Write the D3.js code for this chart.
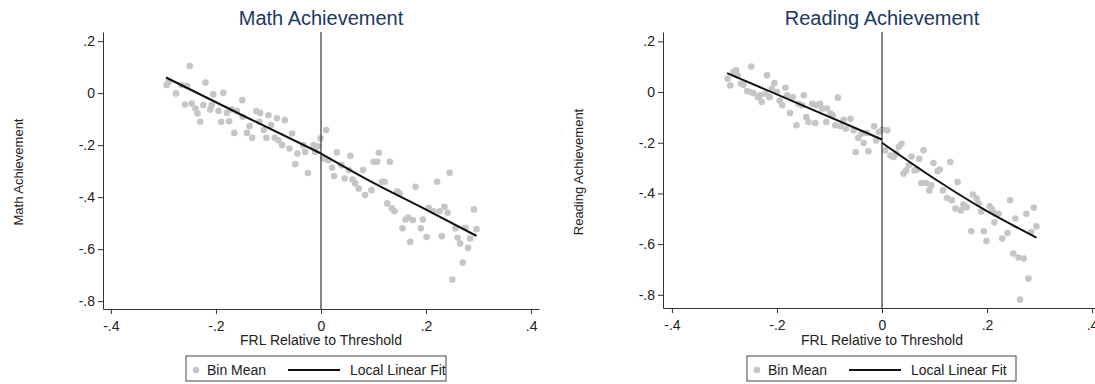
<!DOCTYPE html>
<html>
<head>
<meta charset="utf-8">
<script src="https://cdn.jsdelivr.net/npm/d3@7"></script>
<style>
  html, body { margin: 0; padding: 0; background: #fff; }
  svg { display: block; font-family: "Liberation Sans", Arial, sans-serif; }
</style>
</head>
<body>
<svg id="chart" width="1095" height="384"></svg>
<script>
// Data
const xTicks = [-0.4, -0.2, 0, 0.2, 0.4];
const yTicks = [0.2, 0, -0.2, -0.4, -0.6, -0.8];
const legendLabels = ['Bin Mean', 'Local Linear Fit'];
const xTitle = 'FRL Relative to Threshold';

const mathBins = [
  [-0.294, 0.031], [-0.290, 0.043], [-0.276, -0.001], [-0.250, 0.104], [-0.259, -0.044],
  [-0.265, 0.031], [-0.255, 0.027], [-0.246, -0.040], [-0.239, -0.059], [-0.235, -0.078],
  [-0.230, -0.110], [-0.220, 0.041], [-0.224, -0.046], [-0.211, -0.063], [-0.205, -0.005],
  [-0.208, -0.046], [-0.195, -0.069], [-0.190, -0.110], [-0.186, 0.001], [-0.179, -0.076],
  [-0.175, -0.108], [-0.170, -0.063], [-0.160, -0.069], [-0.165, -0.153], [-0.150, -0.027],
  [-0.149, -0.091], [-0.141, -0.153], [-0.136, -0.127], [-0.131, -0.172], [-0.123, -0.069],
  [-0.116, -0.076], [-0.117, -0.110], [-0.109, -0.142], [-0.104, -0.172], [-0.100, -0.085],
  [-0.095, -0.123], [-0.084, -0.097], [-0.069, -0.104], [-0.088, -0.172], [-0.081, -0.181],
  [-0.074, -0.200], [-0.055, -0.155], [-0.060, -0.213], [-0.045, -0.232], [-0.049, -0.273],
  [-0.034, -0.200], [-0.030, -0.226], [-0.025, -0.307], [-0.014, -0.200], [-0.011, -0.226],
  [-0.006, -0.204], [-0.001, -0.174], [0.010, -0.142], [0.005, -0.251], [0.014, -0.258],
  [0.021, -0.287], [0.030, -0.228], [0.025, -0.319], [0.039, -0.277], [0.045, -0.328],
  [0.056, -0.241], [0.053, -0.296], [0.060, -0.332], [0.065, -0.347], [0.072, -0.367],
  [0.080, -0.296], [0.084, -0.392], [0.096, -0.373], [0.100, -0.264], [0.110, -0.229],
  [0.107, -0.264], [0.131, -0.264], [0.116, -0.341], [0.121, -0.341], [0.145, -0.377],
  [0.150, -0.386], [0.126, -0.424], [0.135, -0.443], [0.140, -0.454], [0.180, -0.360],
  [0.161, -0.486], [0.166, -0.478], [0.175, -0.488], [0.155, -0.520], [0.170, -0.572],
  [0.194, -0.486], [0.190, -0.520], [0.201, -0.553], [0.205, -0.441], [0.214, -0.454],
  [0.221, -0.341], [0.226, -0.454], [0.235, -0.437], [0.241, -0.460], [0.245, -0.306],
  [0.230, -0.550], [0.250, -0.717], [0.256, -0.520], [0.260, -0.556], [0.265, -0.578],
  [0.275, -0.518], [0.270, -0.651], [0.280, -0.595], [0.284, -0.559], [0.291, -0.447],
  [0.296, -0.523]
];
const mathFitBelow = [[-0.295, 0.060], [-0.150, -0.085], [0, -0.232]];
const mathFitAbove = [[0, -0.232], [0.100, -0.345], [0.200, -0.448], [0.296, -0.549]];

const readingBins = [
  [-0.294, 0.053], [-0.289, 0.026], [-0.283, 0.079], [-0.278, 0.086], [-0.275, 0.066],
  [-0.269, 0.033], [-0.264, 0.029], [-0.249, 0.101], [-0.257, 0.004], [-0.251, 0.000],
  [-0.245, -0.004], [-0.236, -0.020], [-0.232, -0.013], [-0.229, -0.039], [-0.219, 0.066],
  [-0.222, -0.006], [-0.214, -0.020], [-0.210, 0.013], [-0.205, 0.036], [-0.200, 0.000],
  [-0.195, -0.033], [-0.190, -0.052], [-0.184, 0.017], [-0.181, -0.013], [-0.175, -0.083],
  [-0.170, -0.020], [-0.163, -0.131], [-0.159, -0.046], [-0.149, -0.013], [-0.152, -0.052],
  [-0.144, -0.099], [-0.140, -0.118], [-0.133, -0.046], [-0.127, -0.122], [-0.125, -0.052],
  [-0.118, -0.046], [-0.114, -0.065], [-0.106, -0.118], [-0.084, -0.022], [-0.105, -0.065],
  [-0.098, -0.085], [-0.094, -0.092], [-0.089, -0.131], [-0.079, -0.135], [-0.073, -0.109],
  [-0.069, -0.145], [-0.060, -0.105], [-0.054, -0.151], [-0.045, -0.181], [-0.039, -0.164],
  [-0.035, -0.201], [-0.050, -0.237], [-0.026, -0.234], [-0.029, -0.162], [-0.015, -0.135],
  [-0.011, -0.191], [-0.006, -0.158], [0.001, -0.148], [0.010, -0.151], [0.006, -0.230],
  [0.016, -0.250], [0.022, -0.256], [0.027, -0.243], [0.032, -0.217], [0.037, -0.204],
  [0.041, -0.322], [0.046, -0.309], [0.051, -0.289], [0.056, -0.254], [0.062, -0.309],
  [0.067, -0.306], [0.071, -0.263], [0.079, -0.230], [0.075, -0.359], [0.084, -0.359],
  [0.090, -0.388], [0.094, -0.368], [0.098, -0.280], [0.106, -0.312], [0.110, -0.306],
  [0.130, -0.276], [0.116, -0.388], [0.124, -0.418], [0.133, -0.427], [0.144, -0.355],
  [0.140, -0.460], [0.150, -0.467], [0.155, -0.444], [0.161, -0.454], [0.173, -0.404],
  [0.180, -0.420], [0.184, -0.440], [0.189, -0.471], [0.170, -0.549], [0.194, -0.549],
  [0.199, -0.588], [0.205, -0.451], [0.210, -0.464], [0.216, -0.480], [0.222, -0.480],
  [0.214, -0.514], [0.229, -0.578], [0.239, -0.556], [0.244, -0.427], [0.254, -0.499],
  [0.250, -0.637], [0.260, -0.653], [0.270, -0.657], [0.275, -0.480], [0.279, -0.736],
  [0.263, -0.819], [0.284, -0.552], [0.289, -0.456], [0.294, -0.530]
];
const readingFitBelow = [[-0.295, 0.075], [0, -0.187]];
const readingFitAbove = [[0, -0.200], [0.100, -0.342], [0.200, -0.470], [0.294, -0.574]];

// Layout
const panels = [
  {
    title: 'Math Achievement', bins: mathBins, fits: [mathFitBelow, mathFitAbove],
    left: 103, right: 539, top: 32, bottom: 309,
    xDomain: [-0.415, 0.415], yDomain: [-0.83, 0.235],
    yTitleX: 23, legendWidth: 260
  },
  {
    title: 'Reading Achievement', bins: readingBins, fits: [readingFitBelow, readingFitAbove],
    left: 663, right: 1101, top: 32, bottom: 308,
    xDomain: [-0.417, 0.417], yDomain: [-0.852, 0.237],
    yTitleX: 583, legendWidth: 269
  }
];

// Stata style labels: .2, -.2, 0
const fmt = d => d === 0 ? '0' : d.toFixed(1).replace(/^(-?)0\./, '$1.');

const svg = d3.select('#chart');
const axisColor = '#333';
const textColor = '#222';

panels.forEach(p => {
  const g = svg.append('g');

  const x = d3.scaleLinear().domain(p.xDomain).range([p.left, p.right]);
  const y = d3.scaleLinear().domain(p.yDomain).range([p.bottom, p.top]);

  // bin means
  g.append('g')
    .selectAll('circle')
    .data(p.bins)
    .join('circle')
    .attr('cx', d => x(d[0]))
    .attr('cy', d => y(d[1]))
    .attr('r', 3.3)
    .attr('fill', '#c6c6c6');

  // threshold line
  g.append('line')
    .attr('x1', x(0)).attr('x2', x(0))
    .attr('y1', p.top).attr('y2', p.bottom)
    .attr('stroke', axisColor)
    .attr('stroke-width', 1.2);

  // local linear fit
  const line = d3.line()
    .curve(d3.curveMonotoneX)
    .x(d => x(d[0]))
    .y(d => y(d[1]));

  p.fits.forEach(f => {
    g.append('path')
      .attr('d', line(f))
      .attr('fill', 'none')
      .attr('stroke', '#111')
      .attr('stroke-width', 2);
  });

  // x axis
  const xAxis = g.append('g')
    .attr('transform', 'translate(0,' + p.bottom + ')')
    .call(d3.axisBottom(x).tickValues(xTicks).tickFormat(fmt).tickSizeInner(5).tickSizeOuter(0).tickPadding(7));

  // y axis
  const yAxis = g.append('g')
    .attr('transform', 'translate(' + p.left + ',0)')
    .call(d3.axisLeft(y).tickValues(yTicks).tickFormat(fmt).tickSizeInner(5).tickSizeOuter(0).tickPadding(3));

  [xAxis, yAxis].forEach(a => {
    a.select('.domain').attr('stroke', axisColor);
    a.selectAll('.tick line').attr('stroke', axisColor);
    a.selectAll('text')
      .attr('fill', textColor)
      .style('font-size', '14px')
      .style('font-family', '"Liberation Sans", Arial, sans-serif');
  });

  // titles
  g.append('text')
    .attr('x', x(0))
    .attr('y', 25)
    .attr('text-anchor', 'middle')
    .attr('fill', '#1e3864')
    .style('font-size', '20px')
    .text(p.title);

  g.append('text')
    .attr('x', x(0))
    .attr('y', 345)
    .attr('text-anchor', 'middle')
    .attr('fill', textColor)
    .style('font-size', '14px')
    .text(xTitle);

  g.append('text')
    .attr('transform', 'translate(' + p.yTitleX + ',172) rotate(-90)')
    .attr('text-anchor', 'middle')
    .attr('fill', textColor)
    .style('font-size', '13px')
    .text(p.title);

  // legend
  const lg = g.append('g')
    .attr('transform', 'translate(' + (x(0) - 135) + ',356)');

  lg.append('rect')
    .attr('width', p.legendWidth)
    .attr('height', 25)
    .attr('fill', '#fff')
    .attr('stroke', '#444')
    .attr('stroke-width', 1);

  lg.append('circle')
    .attr('cx', 10).attr('cy', 14)
    .attr('r', 3.3)
    .attr('fill', '#c6c6c6');

  lg.append('text')
    .attr('x', 21).attr('y', 19)
    .attr('fill', textColor)
    .style('font-size', '14px')
    .text(legendLabels[0]);

  lg.append('line')
    .attr('x1', 102).attr('x2', 154)
    .attr('y1', 14).attr('y2', 14)
    .attr('stroke', '#111')
    .attr('stroke-width', 2);

  lg.append('text')
    .attr('x', 164).attr('y', 19)
    .attr('fill', textColor)
    .style('font-size', '14px')
    .text(legendLabels[1]);
});
</script>
</body>
</html>
